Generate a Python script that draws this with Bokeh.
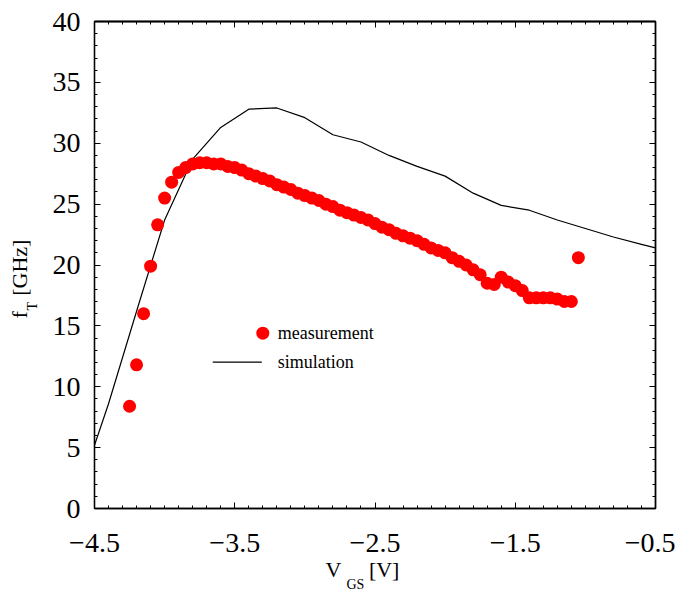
import numpy as np
from bokeh.plotting import figure
from bokeh.models import Range1d, LinearAxis, FixedTicker, Label, Title
from bokeh.embed import file_html
from bokeh.resources import INLINE

# ---- data ----
meas_vgs = [round(-4.25 + 0.05 * k, 2) for k in range(65)]
meas_ft = [8.4, 11.8, 16.0, 19.9, 23.3, 25.5, 26.8, 27.6, 28.0, 28.3,
           28.4, 28.4, 28.3, 28.3, 28.1, 28.0, 27.8, 27.5, 27.3, 27.1,
           26.9, 26.6, 26.4, 26.2, 25.9, 25.7, 25.5, 25.3, 25.0, 24.8,
           24.5, 24.3, 24.1, 23.9, 23.7, 23.4, 23.1, 22.9, 22.6, 22.4,
           22.2, 22.0, 21.7, 21.4, 21.2, 21.0, 20.6, 20.3, 20.0, 19.6,
           19.2, 18.5, 18.4, 19.0, 18.6, 18.3, 17.9, 17.3, 17.3, 17.3,
           17.3, 17.2, 17.0, 17.0, 20.6]
sim_vgs = [-4.5, -4.4, -4.2, -4.0, -3.8, -3.6, -3.4, -3.2, -3.0, -2.8,
           -2.6, -2.4, -2.2, -2.0, -1.8, -1.6, -1.4, -1.2, -1.0, -0.8,
           -0.6, -0.5]
sim_ft = [5.2, 8.6, 16.2, 23.7, 28.7, 31.3, 32.8, 32.9, 32.1, 30.7,
          30.1, 29.0, 28.1, 27.3, 25.9, 24.9, 24.5, 23.7, 23.0, 22.3,
          21.7, 21.4]
x_ticks = [-4.5, -3.5, -2.5, -1.5, -0.5]
y_ticks = [0, 5, 10, 15, 20, 25, 30, 35, 40]

FONT = "Liberation Serif"
NB = "\u00a0"

p = figure(width=675, height=589, output_backend="svg", toolbar_location=None,
           x_range=Range1d(-4.5, -0.5), y_range=Range1d(0, 40),
           min_border_left=94, min_border_right=20, min_border_top=21,
           min_border_bottom=81, x_axis_location=None, y_axis_location=None)
p.xgrid.visible = False
p.ygrid.visible = False
p.outline_line_color = "black"
p.outline_line_width = 1.3
p.background_fill_color = "white"
p.border_fill_color = "white"

x_minor = list(np.round(np.arange(-4.5, -0.49, 0.1), 2))
y_minor = list(range(0, 41))

def style(ax):
    ax.major_tick_in = 6
    ax.major_tick_out = 0
    ax.minor_tick_in = 3
    ax.minor_tick_out = 0
    ax.axis_line_color = "black"
    ax.axis_line_width = 1.3
    ax.major_tick_line_color = "black"
    ax.minor_tick_line_color = "black"
    ax.major_label_text_font = FONT
    ax.major_label_text_color = "black"
    ax.major_label_text_font_size = "28px"

bx = LinearAxis(ticker=FixedTicker(ticks=x_ticks, minor_ticks=x_minor))
style(bx)
bx.major_label_standoff = 25
bx.major_label_overrides = {v: ("\u2212" + str(abs(v))) for v in x_ticks}
p.add_layout(bx, "below")

ly = LinearAxis(ticker=FixedTicker(ticks=y_ticks, minor_ticks=y_minor))
style(ly)
ly.major_label_standoff = 14
p.add_layout(ly, "left")

def bare_axis(ticks, length):
    ax = LinearAxis(ticker=FixedTicker(ticks=[], minor_ticks=ticks))
    ax.major_tick_in = 0
    ax.major_tick_out = 0
    ax.minor_tick_in = length
    ax.minor_tick_out = 0
    ax.major_label_standoff = 0
    ax.axis_line_color = "black"
    ax.axis_line_width = 1.3
    ax.minor_tick_line_color = "black"
    return ax

p.add_layout(bare_axis(x_minor, 3), "above")
p.add_layout(bare_axis(x_ticks, 6), "above")
p.add_layout(bare_axis(y_minor, 3), "right")
p.add_layout(bare_axis(y_ticks, 6), "right")

p.line(sim_vgs, sim_ft, line_color="black", line_width=1.2)
p.scatter(meas_vgs, meas_ft, size=13, fill_color="#ff0000", line_color=None)

# legend (hand-placed)
p.scatter([-3.30], [14.40], size=13, fill_color="#ff0000", line_color=None)
p.line([-3.657, -3.307], [12.02, 12.02], line_color="black", line_width=1.2)
for txt, yy in [("measurement", 14.40), ("simulation", 12.02)]:
    p.add_layout(Label(x=-3.193, y=yy, text=txt, text_font=FONT, text_font_size="18px",
                       text_baseline="middle", text_align="left", text_color="black"))

def title(text, size, offset, standoff):
    return Title(text=text, text_font=FONT, text_font_size=size, text_font_style="normal",
                 text_color="black", align="left", offset=offset, standoff=standoff)

# x axis label: V_GS [V]
p.add_layout(title("V" + NB * 5 + "[V]", "22px", 231, 1), "below")
p.add_layout(title("GS", "14px", 252, -19), "below")

# y axis label: f_T [GHz]
p.add_layout(title("T", "14px", 198, 20), "left")
p.add_layout(title("f" + NB * 2 + "\u2009[GHz]", "22px", 190, -39), "left")

open("out.html", "w").write(file_html(p, INLINE))
